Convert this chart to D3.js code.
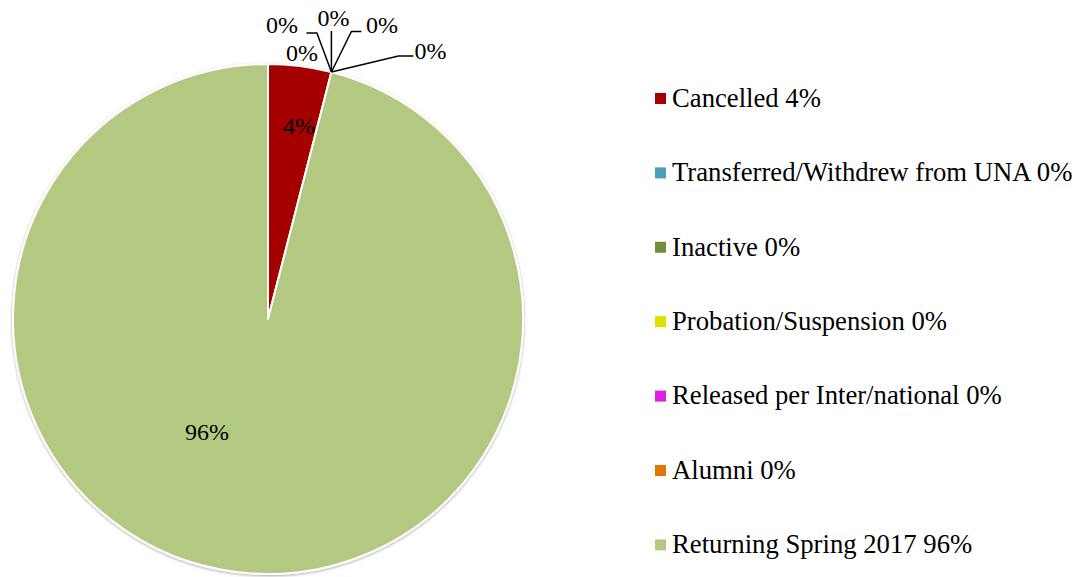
<!DOCTYPE html>
<html>
<head>
<meta charset="utf-8">
<script src="https://cdn.jsdelivr.net/npm/d3@7/dist/d3.min.js"></script>
<style>
  html, body { margin: 0; padding: 0; background: #fff; }
  svg { display: block; }
  text { font-family: "Liberation Serif", "Times New Roman", serif; fill: #000; }
</style>
</head>
<body>
<svg id="chart" width="1082" height="577"></svg>
<script>
// ---- data ----
const categories = [
  "Cancelled",
  "Transferred/Withdrew from UNA",
  "Inactive",
  "Probation/Suspension",
  "Released per Inter/national",
  "Alumni",
  "Returning Spring 2017"
];
const values = [4, 0, 0, 0, 0, 0, 96];
const percentLabels = ["4%", "0%", "0%", "0%", "0%", "0%", "96%"];
const colors = ["#A50000", "#4BA0B8", "#72903A", "#E0E000", "#E020E0", "#E07800", "#B3C981"];

// ---- layout ----
const W = 1082, H = 577;
const cx = 268, cy = 319, R = 255;
const svg = d3.select("#chart");

const defs = svg.append("defs");
const f = defs.append("filter").attr("id", "shadow").attr("x", "-10%").attr("y", "-10%").attr("width", "120%").attr("height", "120%");
f.append("feGaussianBlur").attr("in", "SourceAlpha").attr("stdDeviation", 1.5).attr("result", "b");
f.append("feOffset").attr("in", "b").attr("dx", -0.5).attr("dy", 0.5).attr("result", "o");
f.append("feComponentTransfer").attr("in", "o").attr("result", "s")
  .append("feFuncA").attr("type", "linear").attr("slope", 0.35);
const m = f.append("feMerge");
m.append("feMergeNode").attr("in", "s");
m.append("feMergeNode").attr("in", "SourceGraphic");

const data = categories.map((c, i) => ({ cat: c, value: values[i], label: percentLabels[i], color: colors[i] }));
const pie = d3.pie().sort(null).value(d => d.value);
const arcs = pie(data);
const arc = d3.arc().innerRadius(0).outerRadius(R);

const g = svg.append("g").attr("transform", `translate(${cx},${cy})`);
const pg = g.append("g").attr("filter", "url(#shadow)");
pg.selectAll("path")
  .data(arcs.filter(a => a.value > 0))
  .join("path")
  .attr("d", arc)
  .attr("fill", d => d.data.color)
  .attr("stroke", "#fff")
  .attr("stroke-width", 2)
  .attr("stroke-linejoin", "round");

// labels for non-zero slices (Excel-like best-fit offsets from centre)
const bigLabelPlacement = { 0: { dx: 31, dy: -185 }, 6: { dx: -61, dy: 121 } };
arcs.forEach((a, i) => {
  if (a.value > 0) {
    const p = bigLabelPlacement[i];
    g.append("text")
      .attr("x", p.dx).attr("y", p.dy)
      .attr("text-anchor", "middle")
      .attr("font-size", 24)
      .text(a.data.label);
  }
});

// zero-slice labels with leader lines from the shared slice edge point
const zeroArcs = arcs.filter(a => a.value === 0);
const zeroPlacement = [
  { tx: -49.5, ty: -39.5, pts: [[-14.5, -39], [-25, -39]] },
  { tx: -29.5, ty: -11, pts: null },
  { tx: 2, ty: -46, pts: [[0, -41]] },
  { tx: 50.5, ty: -39.5, pts: [[20, -40.5], [30, -40.5]] },
  { tx: 99, ty: -13, pts: [[67, -16], [82, -16]] }
];
zeroArcs.forEach((a, k) => {
  const ang = a.startAngle;
  const ax = R * Math.sin(ang), ay = -R * Math.cos(ang);
  const pl = zeroPlacement[k];
  if (pl.pts) {
    const line = [[ax, ay]].concat(pl.pts.map(p => [ax + p[0], ay + p[1]]));
    g.append("path")
      .attr("d", d3.line()(line))
      .attr("fill", "none")
      .attr("stroke", "#000")
      .attr("stroke-width", 1.5);
  }
  g.append("text")
    .attr("x", ax + pl.tx).attr("y", ay + pl.ty)
    .attr("text-anchor", "middle")
    .attr("font-size", 24)
    .text(a.data.label);
});

// ---- legend ----
const legendX = 655, legendY0 = 106.7, legendStep = 74.4;
const lg = svg.append("g");
data.forEach((d, i) => {
  const y = legendY0 + i * legendStep;
  lg.append("rect")
    .attr("x", legendX).attr("y", y - 13.7)
    .attr("width", 11).attr("height", 11)
    .attr("fill", d.color);
  lg.append("text")
    .attr("x", legendX + 17).attr("y", y)
    .attr("font-size", 26.7)
    .text(`${d.cat} ${d.label}`);
});
</script>
</body>
</html>
